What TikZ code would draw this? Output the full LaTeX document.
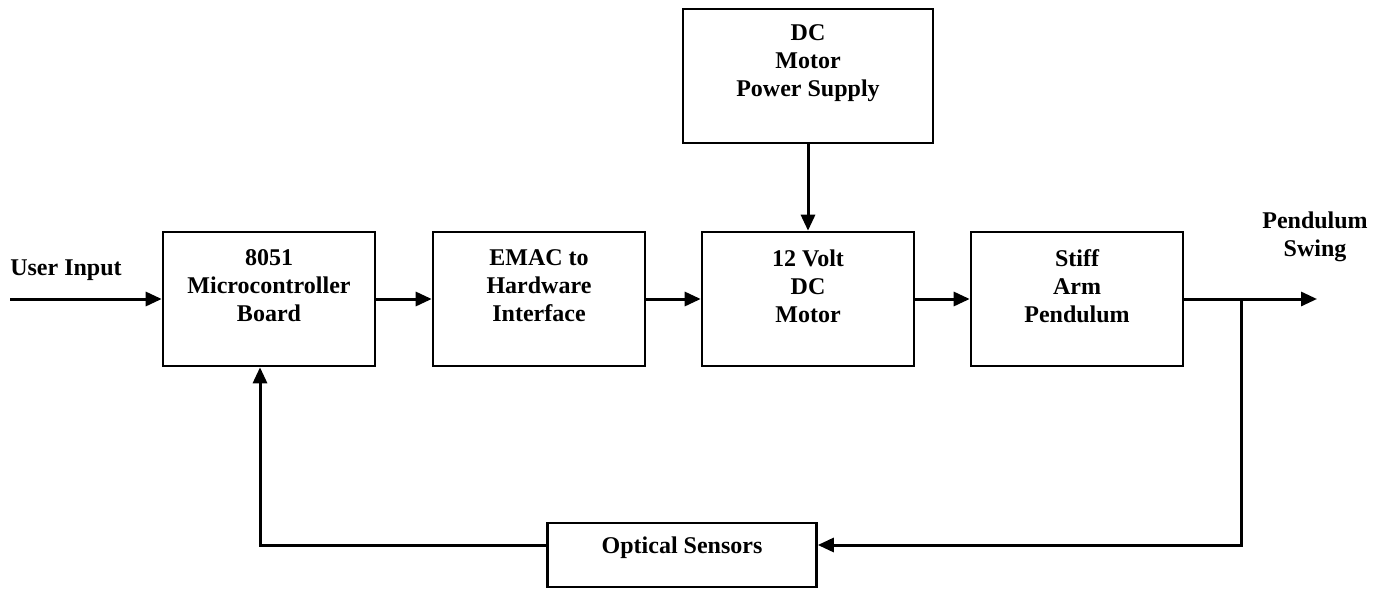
\documentclass[tikz,border=0pt]{standalone}
\usepackage{fontspec}
\setmainfont{Liberation Serif}
\usepackage{tikz}
\usetikzlibrary{arrows.meta,calc}

\begin{document}
\begin{tikzpicture}[x=0.5pt,y=-0.5pt]
            \tikzset{block/.style = {draw, line width=1.3pt, minimum width=106pt, minimum height=67pt, inner sep=0pt}}
            \tikzset{txt/.style = {align=center, inner sep=0pt, font=\fontsize{12}{14}\selectfont\bfseries}}
            \tikzset{edge/.style = {line width=1.5pt, -{Triangle[length=8pt,width=7pt]}}}
            \useasboundingbox (0,0) rectangle (1390,589);
            
            % blocks
            \node[block] (mcu) at (269,299) {};
            \node[block] (emac) at (539,299) {};
            \node[block] (motor) at (808,299) {};
            \node[block] (pend) at (1077,299) {};
            \node[block, minimum width=125pt] (supply) at (808,76) {};
            \node[block, minimum width=134.5pt, minimum height=32pt] (sensor) at (682,555) {};
            
            % block texts
            \node[txt] (mcutxt) at ([yshift=6.5pt]mcu.center) {8051\\Microcontroller\\Board};
            \node[txt] (emactxt) at ([yshift=6.5pt]emac.center) {EMAC to\\Hardware\\Interface};
            \node[txt] (motortxt) at ([yshift=6.5pt]motor.center) {12 Volt\\DC\\Motor};
            \node[txt] (pendtxt) at ([yshift=6.5pt]pend.center) {Stiff\\Arm\\Pendulum};
            \node[txt] (supplytxt) at ([yshift=6.5pt]supply.center) {DC\\Motor\\Power Supply};
            \node[txt] (sensortxt) at ([yshift=3.5pt]sensor.center) {Optical Sensors};
            
            % input and output
            \node[txt] (user) at (66,270) {User Input};
            \node[txt] (swing) at (1315,237) {Pendulum\\Swing};
            \coordinate (in) at (10,299);
            \coordinate (out) at (1317,299);
            \coordinate (tap) at (1241,299);
            
            % edges
            \draw[edge] (in) -- (mcu.west);
            \draw[edge] (mcu) -- (emac);
            \draw[edge] (emac) -- (motor);
            \draw[edge] (motor) -- (pend);
            \draw[edge] (supply) -- (motor);
            \draw[edge] (pend.east) -- (out);
            
            % feedback
            \draw[edge] (tap) |- ([yshift=5pt]sensor.east);
            \draw[edge] ([yshift=5pt]sensor.west) -| ([xshift=-4.5pt]mcu.south);
            
          \end{tikzpicture}
\end{document}
